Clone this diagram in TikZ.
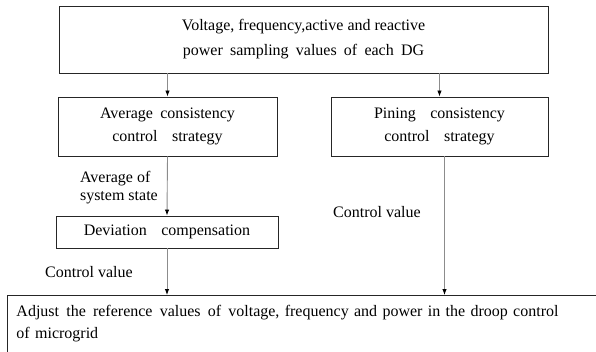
\documentclass[tikz,border=0pt]{standalone}
\usepackage{fontspec}
\setmainfont{Liberation Serif}
\usepackage{tikz}
\usetikzlibrary{arrows.meta,positioning}

\newcommand{\wsp}{\hspace{0.45em}}

\begin{document}
\begin{tikzpicture}[x=1pt,y=-1pt,
  box/.style={draw=black!85,line width=0.9pt,inner sep=0pt,align=center},
  lab/.style={inner sep=0pt,align=left},
  flow/.style={draw=black!45,line width=0.9pt,-{Latex[black,length=6pt,width=4.5pt]}}]
  \useasboundingbox (0,0) rectangle (596,352);
  % boxes
  \node[box,minimum width=489pt,minimum height=67pt,font=\fontsize{16}{25}\selectfont]
    (samp) at (303.5,39.5) {Voltage, frequency,active and reactive\\power\wsp sampling\wsp values\wsp of\wsp each\wsp DG};
  \node[box,minimum width=219pt,minimum height=59pt,font=\fontsize{16}{23}\selectfont]
    (avg) at (167.5,126.5) {Average\wsp consistency\\control\wsp\wsp strategy};
  \node[box,minimum width=217pt,minimum height=59pt,font=\fontsize{16}{23}\selectfont]
    (pin) at (439.5,126.5) {Pining\wsp\wsp consistency\\control\wsp\wsp strategy};
  \node[box,minimum width=222pt,minimum height=32pt,font=\fontsize{16}{20}\selectfont]
    (dev) at (167,232) {Deviation\wsp\wsp compensation};
  \node[box,anchor=north west,minimum width=640pt,minimum height=57pt,
    text width=622pt,inner sep=9pt,align=left,font=\fontsize{16}{22}\selectfont]
    (adj) at (7,295) {Adjust\wsp the\wsp reference\wsp values\wsp of\wsp voltage, frequency and power in the droop control\\of microgrid};
  % labels
  \node[lab,anchor=east,font=\fontsize{16}{18}\selectfont] (avglab) at (158,188) {Average of\\system state};
  \node[lab,anchor=west,font=\fontsize{16}{18}\selectfont] (devlab) at (45,272) {Control value};
  \node[lab,anchor=west,font=\fontsize{16}{18}\selectfont] (pinlab) at (333,212) {Control value};
  % arrows
  \draw[flow] (samp.south -| avg) -- (avg.north);
  \draw[flow] (samp.south -| pin) -- (pin.north);
  \draw[flow] (avg.south) -- (dev.north);
  \draw[flow] (dev.south) -- (dev.south |- adj.north);
  \draw[flow] ([xshift=5pt]pin.south) -- ([xshift=5pt]pin.south |- adj.north);
\end{tikzpicture}
\end{document}
